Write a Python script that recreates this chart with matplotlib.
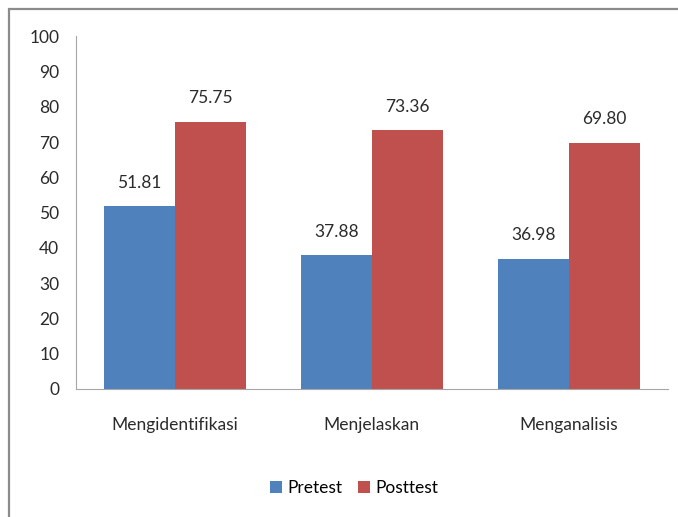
import numpy as np
import matplotlib.pyplot as plt
from matplotlib.patches import Rectangle

plt.rcParams["font.family"] = ["Lato", "DejaVu Sans"]

categories = ["Mengidentifikasi", "Menjelaskan", "Menganalisis"]
pretest = [51.81, 37.88, 36.98]
posttest = [75.75, 73.36, 69.80]
yticks = [0, 10, 20, 30, 40, 50, 60, 70, 80, 90, 100]

fs = 12.5
fig = plt.figure(figsize=(6.78, 5.17), dpi=100)
ax = fig.add_axes([0.112, 0.2476, 0.873, 0.6824])

# outer chart frame (right/bottom fall outside the crop)
fig.patches.append(Rectangle((0.0133, -0.1), 2, 0.9826 + 0.1, transform=fig.transFigure,
                             fill=False, edgecolor="#8c8c8c", linewidth=1.6))

x = np.arange(len(categories))
w = 0.36
b1 = ax.bar(x - w / 2, pretest, w, color="#4F81BD", label="Pretest")
b2 = ax.bar(x + w / 2, posttest, w, color="#C0504D", label="Posttest")

for bars, vals in [(b1, pretest), (b2, posttest)]:
    for bar, v in zip(bars, vals):
        ax.annotate(f"{v:.2f}", (bar.get_x() + bar.get_width() / 2, v),
                    xytext=(0, 11), textcoords="offset points",
                    ha="center", va="bottom", fontsize=fs, color="#2b2b2b")

ax.set_xlim(-0.5, 2.5)
ax.set_ylim(0, 100)
ax.set_yticks(yticks)
ax.set_yticklabels([str(t) for t in yticks], fontsize=fs, color="#2b2b2b")
ax.set_xticks(x)
ax.set_xticklabels(categories, fontsize=fs, color="#2b2b2b")
ax.tick_params(axis="y", length=0, pad=12)
ax.tick_params(axis="x", length=0, pad=20)

for s in ["top", "right"]:
    ax.spines[s].set_visible(False)
ax.spines["left"].set_color("#a6a6a6")
ax.spines["bottom"].set_color("#a6a6a6")

fig.legend(handles=[b1, b2], loc="center", bbox_to_anchor=(0.522, 0.056),
           ncol=2, frameon=False, fontsize=fs, handlelength=0.7, handleheight=0.7,
           handletextpad=0.3, columnspacing=0.9)

fig.savefig("out.png", dpi=100)
